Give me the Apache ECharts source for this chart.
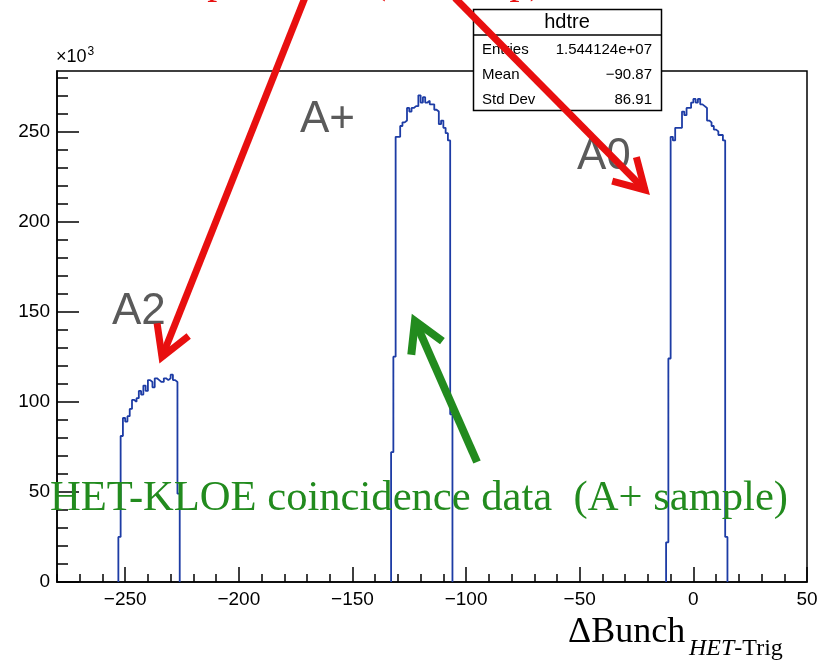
<!DOCTYPE html>
<html>
<head>
<meta charset="utf-8">
<script src="https://cdn.jsdelivr.net/npm/echarts@6/dist/echarts.min.js"></script>
<style>
  html, body { margin: 0; padding: 0; background: #fff; }
  #main { width: 822px; height: 660px; }
</style>
</head>
<body>
<div id="main"></div>
<script>
// histogram hdtre, 1 bunch per bin, counts in units of 10^3
const xMin = -280;
const xMax = 50;
const yMax = 283.5;

const a2Start = -253;
const a2Counts = [25, 81, 91, 89, 92, 96, 101, 100, 102, 106, 104, 109, 106, 112, 111, 108,
  113, 112, 111, 111, 113, 112, 113, 115, 112, 111, 49];

const apStart = -133;
const apCounts = [72, 125, 247, 247, 253, 255, 256, 263, 261, 263, 264, 264, 270, 266, 269,
  266, 267, 265, 265, 262, 261, 254, 256, 252, 249, 245, 93];

const a0Start = -12;
const a0Counts = [22, 124, 247, 245, 252, 252, 252, 261, 259, 263, 263, 266, 268, 266, 268,
  265, 264, 263, 256, 255, 253, 251, 250, 248, 248, 245, 25];

const xMajorTicks = [-250, -200, -150, -100, -50, 0, 50];
const yTicks = [0, 50, 100, 150, 200, 250];

const statNames = ['Entries', 'Mean', 'Std Dev'];
const statValues = ['1.544124e+07', '\u221290.87', '86.91'];

// step outline: left edge up, one point per bin, right edge down
function histPoints(start, counts) {
  const pts = [[start, 0]];
  counts.forEach((c, i) => pts.push([start + i, c]));
  pts.push([start + counts.length, 0]);
  pts.push(null);
  return pts;
}

const histData = [].concat(
  histPoints(a2Start, a2Counts),
  histPoints(apStart, apCounts),
  histPoints(a0Start, a0Counts)
);

function arrow(tail, tip, color, width, head) {
  const dx = tail[0] - tip[0];
  const dy = tail[1] - tip[1];
  const len = Math.sqrt(dx * dx + dy * dy);
  const ux = dx / len, uy = dy / len;
  const a = Math.PI / 6;
  const w1 = [tip[0] + head * (ux * Math.cos(a) - uy * Math.sin(a)), tip[1] + head * (ux * Math.sin(a) + uy * Math.cos(a))];
  const w2 = [tip[0] + head * (ux * Math.cos(-a) - uy * Math.sin(-a)), tip[1] + head * (ux * Math.sin(-a) + uy * Math.cos(-a))];
  const style = { stroke: color, lineWidth: width, fill: null, lineJoin: 'miter', lineCap: 'butt' };
  return [
    { type: 'polyline', z: 120, shape: { points: [tail, tip] }, style: style },
    { type: 'polyline', z: 120, shape: { points: [w1, tip, w2] }, style: style }
  ];
}

const red = '#e80f0f';
const green = '#228b1e';
const grey = '#5a5a5a';
const serif = '"Liberation Serif", "DejaVu Serif", serif';
const sans = '"Liberation Sans", Arial, sans-serif';

const statBox = [
  { type: 'rect', z: 110, shape: { x: 473.5, y: 9.5, width: 188, height: 101 },
    style: { fill: '#fff', stroke: '#000', lineWidth: 1.5 } },
  { type: 'line', z: 111, shape: { x1: 473.5, y1: 35, x2: 661.5, y2: 35 },
    style: { stroke: '#000', lineWidth: 1.5 } },
  { type: 'text', z: 111, x: 567, y: 22,
    style: { text: 'hdtre', font: '20px ' + sans, fill: '#000', align: 'center', verticalAlign: 'middle' } }
];
statNames.forEach((n, i) => {
  const yc = 49.5 + i * 25;
  statBox.push({ type: 'text', z: 111, x: 482, y: yc,
    style: { text: n, font: '15px ' + sans, fill: '#000', align: 'left', verticalAlign: 'middle' } });
  statBox.push({ type: 'text', z: 111, x: 652, y: yc,
    style: { text: statValues[i], font: '15px ' + sans, fill: '#000', align: 'right', verticalAlign: 'middle' } });
});

const labels = [
  { type: 'text', z: 100, x: 300, y: 120, style: { text: 'A+', font: '44px ' + sans, fill: grey, verticalAlign: 'middle' } },
  { type: 'text', z: 100, x: 577, y: 157, style: { text: 'A0', font: '44px ' + sans, fill: grey, verticalAlign: 'middle' } },
  { type: 'text', z: 100, x: 112, y: 312, style: { text: 'A2', font: '44px ' + sans, fill: grey, verticalAlign: 'middle' } },
  { type: 'text', z: 130, x: 50, y: 499,
    style: { text: 'HET-KLOE coincidence data  (A+ sample)', font: '42.6px ' + serif, fill: green, verticalAlign: 'middle' } },
  { type: 'text', z: 130, x: 104, y: -18,
    style: { text: 'HET spare data  (A0 setup)', font: '40px ' + serif, fill: red, verticalAlign: 'middle' } },
  { type: 'text', z: 100, x: 56, y: 57,
    style: { text: '\u00d710{s|3}', font: '18px ' + sans, fill: '#000', verticalAlign: 'middle',
      rich: { s: { fontSize: 12, fontFamily: sans, verticalAlign: 'top', padding: [0, 0, 10, 1] } } } },
  { type: 'text', z: 100, x: 568, y: 633,
    style: { text: '\u0394Bunch', font: '36px ' + serif, fill: '#000', verticalAlign: 'middle' } },
  { type: 'text', z: 100, x: 689, y: 649,
    style: { text: '{i|HET}-Trig', font: '24px ' + serif, fill: '#000', verticalAlign: 'middle',
      rich: { i: { fontStyle: 'italic', fontSize: 24, fontFamily: serif } } } }
];

const arrows = [].concat(
  arrow([306, -5], [162, 357], red, 7, 34),
  arrow([455, -2], [645, 190], red, 7, 34),
  arrow([477, 462], [415, 321], green, 8, 34)
);

const chart = echarts.init(document.getElementById('main'), null, { renderer: 'canvas' });

const option = {
  animation: false,
  backgroundColor: '#fff',
  grid: {
    left: 57, right: 15, top: 71, bottom: 78,
    show: true, borderColor: '#000', borderWidth: 1.5, backgroundColor: 'transparent'
  },
  xAxis: [
    {
      type: 'value', min: xMin, max: xMax, interval: 10,
      axisLine: { show: true, onZero: false, lineStyle: { color: '#000', width: 1.5 } },
      axisTick: { show: true, inside: true, length: 8, lineStyle: { color: '#000', width: 1.5 } },
      axisLabel: { show: false },
      splitLine: { show: false }
    },
    {
      type: 'value', min: xMin, max: xMax, position: 'bottom',
      axisLine: { show: false, onZero: false },
      axisTick: { show: true, inside: true, length: 15, customValues: xMajorTicks,
        lineStyle: { color: '#000', width: 1.5 } },
      axisLabel: { show: true, customValues: xMajorTicks, margin: 8, color: '#000',
        fontFamily: sans, fontSize: 19,
        formatter: v => String(v).replace('-', '\u2212') },
      splitLine: { show: false }
    }
  ],
  yAxis: {
    type: 'value', min: 0, max: yMax, interval: 50, position: 'left',
    axisLine: { show: true, onZero: false, lineStyle: { color: '#000', width: 1.5 } },
    axisTick: { show: true, inside: true, length: 22, customValues: yTicks, lineStyle: { color: '#000', width: 1.5 } },
    minorTick: { show: true, splitNumber: 5, length: 11, lineStyle: { color: '#000', width: 1.5 } },
    axisLabel: { customValues: yTicks, margin: 7, color: '#000', fontFamily: sans, fontSize: 19 },
    splitLine: { show: false }
  },
  series: [{
    type: 'line',
    xAxisIndex: 0,
    step: 'end',
    data: histData,
    connectNulls: false,
    showSymbol: false,
    symbol: 'none',
    lineStyle: { color: '#1d3ca5', width: 1.8 },
    z: 5
  }],
  graphic: { elements: [].concat(labels, statBox, arrows) }
};

chart.setOption(option);
</script>
</body>
</html>
